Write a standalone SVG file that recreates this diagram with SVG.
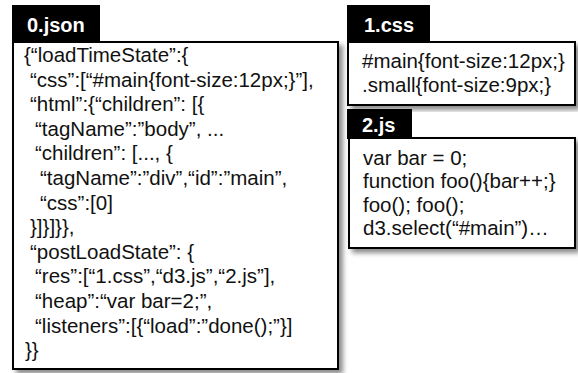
<svg xmlns="http://www.w3.org/2000/svg" width="578" height="373" viewBox="0 0 578 373">
  <defs>
    <filter id="shadow" x="-5%" y="-5%" width="115%" height="115%">
      <feDropShadow dx="4" dy="4" stdDeviation="2.4" flood-color="#000" flood-opacity="0.45"/>
    </filter>
  </defs>
  <style>
    .tab { fill: #000; }
    .tab-label { font-family: "Liberation Sans", Arial, sans-serif; font-weight: bold; font-size: 20px; fill: #fff; }
    .box { fill: #fff; stroke: #000; stroke-width: 2; filter: url(#shadow); }
    .code { font-family: "Liberation Sans", Arial, sans-serif; font-size: 20.5px; fill: #111; }
  </style>
  <rect width="578" height="373" fill="#fff"/>

  <!-- snapshot file -->
  <g id="json-file">
    <rect class="box" x="13" y="42" width="325" height="327"/>
    <rect class="tab" x="12" y="5" width="88" height="37"/>
    <text class="tab-label" x="27" y="32">0.json</text>
    <text class="code">
      <tspan x="24" y="62">{“loadTimeState”:{</tspan>
      <tspan x="30" y="86.6">“css”:[“#main{font-size:12px;}”],</tspan>
      <tspan x="30" y="111.2">“html”:{“children”: [{</tspan>
      <tspan x="35" y="135.8">“tagName”:”body”, ...</tspan>
      <tspan x="35" y="160.4">“children”: [..., {</tspan>
      <tspan x="40" y="185">“tagName”:”div”,“id”:”main”,</tspan>
      <tspan x="40" y="209.6">“css”:[0]</tspan>
      <tspan x="30" y="234.2">}]}]}},</tspan>
      <tspan x="30" y="258.8">“postLoadState”: {</tspan>
      <tspan x="35" y="283.4">“res”:[“1.css”,“d3.js”,“2.js”],</tspan>
      <tspan x="35" y="308">“heap”:“var bar=2;”,</tspan>
      <tspan x="35" y="332.6">“listeners”:[{“load”:”done();”}]</tspan>
      <tspan x="25" y="357.2">}}</tspan>
    </text>
  </g>

  <!-- stylesheet -->
  <g id="css-file">
    <rect class="box" x="348" y="42" width="227" height="63"/>
    <rect class="tab" x="347" y="5" width="83" height="37"/>
    <text class="tab-label" x="364" y="32">1.css</text>
    <text class="code">
      <tspan x="362" y="68">#main{font-size:12px;}</tspan>
      <tspan x="362" y="92">.small{font-size:9px;}</tspan>
    </text>
  </g>

  <!-- script -->
  <g id="js-file">
    <rect class="box" x="349" y="138" width="226" height="110"/>
    <rect class="tab" x="347" y="109" width="65" height="30"/>
    <text class="tab-label" x="362" y="132">2.js</text>
    <text class="code">
      <tspan x="363" y="164.5">var bar = 0;</tspan>
      <tspan x="363" y="188">function foo(){bar++;}</tspan>
      <tspan x="363" y="211.5">foo(); foo();</tspan>
      <tspan x="363" y="235">d3.select(“#main”)…</tspan>
    </text>
  </g>
</svg>
